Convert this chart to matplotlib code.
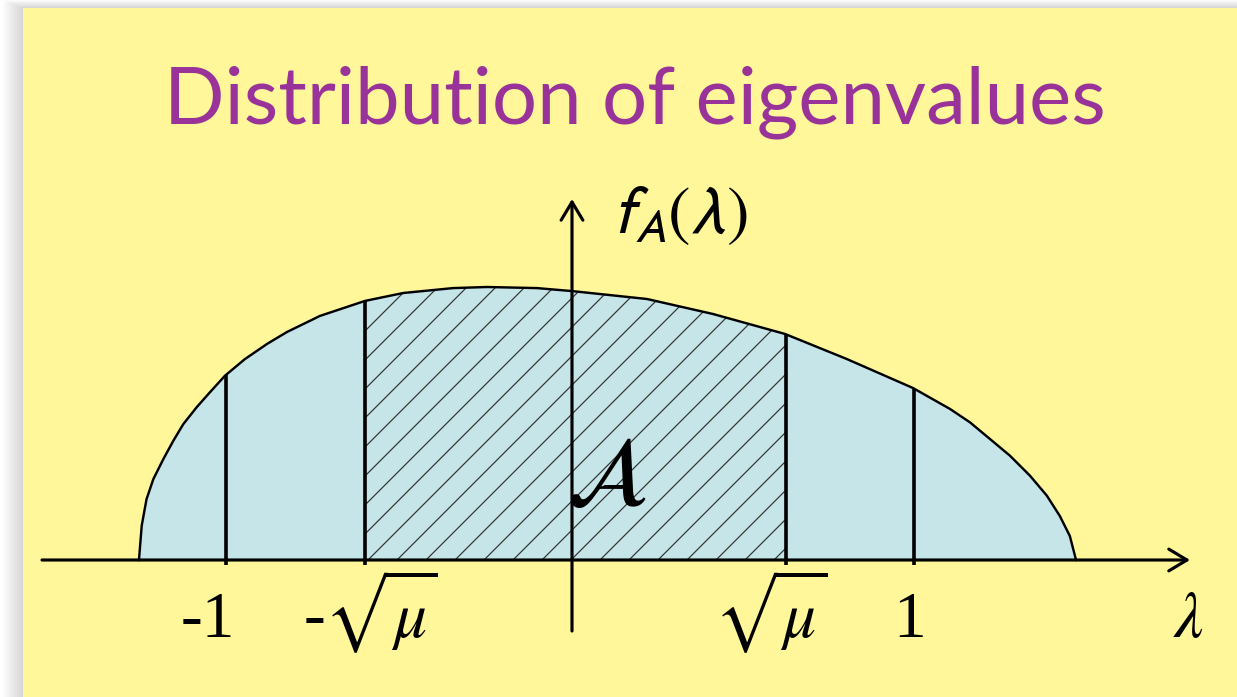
import matplotlib.pyplot as plt
import numpy as np
from matplotlib.patches import Rectangle

plt.rcParams['hatch.linewidth'] = 0.5

W, H, DPI = 1237, 698, 174
# pixel scale of the drawing: origin and px per unit
OX, OY, PX, PY = 570, 561, 344, 273

# density curve (lambda, f_A)
lam = np.array([-1.253, -1.245, -1.231, -1.211, -1.182, -1.153, -1.124, -1.085,
                -1.047, -1.003, -0.945, -0.880, -0.823, -0.727, -0.596, -0.485,
                -0.340, -0.241, -0.096, 0.006, 0.029, 0.224, 0.416, 0.625,
                0.805, 0.997, 1.105, 1.163, 1.221, 1.279, 1.337, 1.386,
                1.424, 1.453, 1.471])
dens = np.array([0.0, 0.126, 0.223, 0.297, 0.370, 0.437, 0.498, 0.560,
                 0.614, 0.675, 0.736, 0.792, 0.835, 0.894, 0.949, 0.978,
                 0.996, 1.0, 0.996, 0.985, 0.982, 0.956, 0.901, 0.828,
                 0.736, 0.630, 0.553, 0.504, 0.443, 0.382, 0.309, 0.236,
                 0.161, 0.088, 0.0])

tick_pos = [-1.0, -0.596, 0.628, 1.0]
tick_labels = ['-1', '-$\\sqrt{\\mu}$', '$\\sqrt{\\mu}$', '1']
tick_shift = [-18, 5, -15, -4]   # label offset in px

fig = plt.figure(figsize=(W / DPI, H / DPI), dpi=DPI, facecolor='white')

# background: slide with soft shadow
bg = fig.add_axes([0, 0, 1, 1])
bg.set_xlim(0, W)
bg.set_ylim(H, 0)
bg.axis('off')
for k in range(1, 11):
    bg.add_patch(Rectangle((23 - 2 * k, 9 - 0.8 * k), W + 40, H + 40,
                           color='black', alpha=0.016, lw=0))
bg.add_patch(Rectangle((23, 9), W, H, color='#FFF799', lw=0))

ax = fig.add_axes([0, 0, 1, 1])
ax.patch.set_alpha(0)
ax.axis('off')
ax.set_xlim(-OX / PX, (W - OX) / PX)
ax.set_ylim((OY - H) / PY, OY / PY)

ax.fill_between(lam, dens, 0, color='#C5E5E8', lw=0)

# hatched part between -sqrt(mu) and sqrt(mu)
lo, hi = tick_pos[1], tick_pos[2]
inside = (lam > lo) & (lam < hi)
hx = np.r_[lo, lam[inside], hi]
hy = np.interp(hx, lam, dens)
ax.fill_between(hx, hy, 0, facecolor='none', edgecolor='#333333', hatch='//', lw=0)

ax.plot(lam, dens, color='black', lw=1.0)

for p in tick_pos:
    ax.plot([p, p], [-0.02, np.interp(p, lam, dens)], color='black', lw=1.5,
            solid_capstyle='butt')

# axes with arrows
arrow = dict(arrowstyle='->,head_length=0.75,head_width=0.45', lw=1.3,
             color='black', shrinkA=0, shrinkB=0)
ax.annotate('', xy=((1190 - OX) / PX, 0), xytext=((42 - OX) / PX, 0), arrowprops=arrow)
ax.annotate('', xy=((572 - OX) / PX, (OY - 200) / PY),
            xytext=((572 - OX) / PX, (OY - 632) / PY), arrowprops=arrow)

# tick labels
for p, t, s in zip(tick_pos, tick_labels, tick_shift):
    ax.annotate(t, xy=(p, 0), xytext=(s, -76), textcoords='offset pixels',
                ha='center', va='baseline', fontsize=27,
                family='Liberation Serif', math_fontfamily='stix')
ax.text((1188 - OX) / PX, (OY - 637) / PY, '$\\lambda$', ha='center', va='baseline',
        fontsize=27, math_fontfamily='stix')

ax.text((612 - OX) / PX, (OY - 233) / PY, '$f_A(\\lambda)$', ha='left', va='baseline',
        fontsize=28, math_fontfamily='stixsans')
ax.text((606 - OX) / PX, (OY - 478) / PY, '$\\mathcal{A}$', ha='center', va='center',
        fontsize=40, math_fontfamily='stix')

fig.text(635 / W, 1 - 123 / H, 'Distribution of eigenvalues', ha='center',
         va='baseline', color='#993399', fontsize=33, family='Lato')

fig.savefig('out.png', dpi=DPI, facecolor=fig.get_facecolor())
